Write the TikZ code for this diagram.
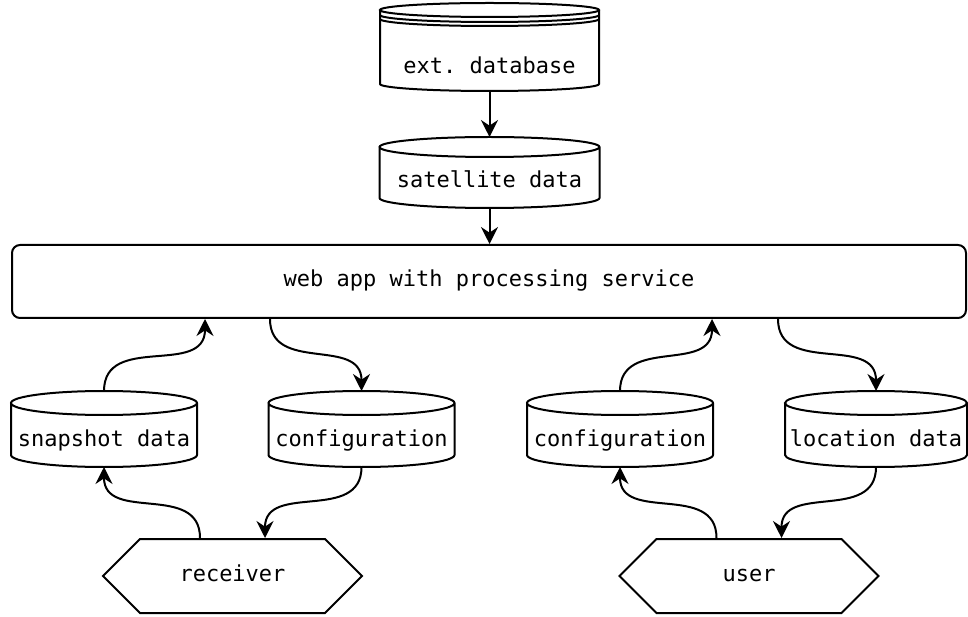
\documentclass[tikz,border=0pt]{standalone}
\usepackage{fontspec}
\setmonofont{DejaVu Sans Mono}
\usetikzlibrary{arrows.meta,positioning,calc,shapes.symbols}

\begin{document}
\begin{tikzpicture}[x=1pt, y=1pt, line width=1pt,
  txt/.style={font=\ttfamily\fontsize{11pt}{13pt}\selectfont, text height=8pt, text depth=2.5pt},
  store/.style={txt, minimum width=92pt, minimum height=25pt, inner xsep=1pt, inner ysep=0pt},
  app/.style={txt, draw, rounded corners=4pt, minimum width=477pt, minimum height=36.5pt},
  agent/.style={txt, draw, signal, signal to=east and west, signal pointer angle=90,
                minimum width=129.5pt, minimum height=37pt},
  flow/.style={-{Stealth[length=8.5pt, width=8.5pt, inset=2.8pt]}, looseness=1.2}]
  \useasboundingbox (0,0) rectangle (484,308);
  % data stores, only the body of each drum is the node
  \node[store, minimum width=108.5pt, minimum height=22pt] (ext) at (244.75,274) {ext. database};
  \node[store, minimum width=109pt, minimum height=24.5pt] (sat) at (244.75,216.75) {satellite data};
  \node[app] (web) at (244.5,167.25) {web app with processing service};
  \node[store] (snap) at (52,87.5) {snapshot data};
  \node[store] (cfgA) at (180.75,87.5) {configuration};
  \node[store] (cfgB) at (310,87.5) {configuration};
  \node[store, minimum width=90pt] (loc) at (438,87.5) {location data};
  \node[agent] (recv) at (116.25,20) {receiver};
  \node[agent] (usr) at (374.5,20) {user};

  % drum outlines
  \foreach \s/\ry/\lift in {ext/3.5/17.5, sat/5/5, snap/6/6, cfgA/6/6, cfgB/6/6, loc/6/6}
    \draw let \p1=(\s.north west), \p2=(\s.south east), \n1={(\x2-\x1)/2} in
      (\x1,\y1+\lift pt) -- (\x1,\y2+\ry pt)
      arc[start angle=180, end angle=360, x radius=\n1, y radius=\ry pt]
      -- (\x2,\y1+\lift pt)
      (\x1+\n1,\y1+\lift pt) ellipse[x radius=\n1, y radius=\ry pt];
  \draw let \p1=(ext.north west), \p2=(ext.north east), \n1={(\x2-\x1)/2} in
    (\x1,\y1+15pt) arc[start angle=180, end angle=360, x radius=\n1, y radius=3.5pt]
    (\x1,\y1+13pt) arc[start angle=180, end angle=360, x radius=\n1, y radius=3.5pt];

  \draw[flow] (ext.south) -- ([yshift=10pt]sat.north);
  \draw[flow] (sat.south) -- (sat.south |- web.north);

  \draw[flow] ([yshift=12pt]snap.north) to[out=90, in=-90] ([xshift=-142pt]web.south);
  \draw[flow] ([xshift=-109.5pt]web.south) to[out=-90, in=90] ([yshift=12pt]cfgA.north);
  \draw[flow] ([yshift=12pt]cfgB.north) to[out=90, in=-90] ([xshift=111.5pt]web.south);
  \draw[flow] ([xshift=144.5pt]web.south) to[out=-90, in=90] ([yshift=12pt]loc.north);

  \draw[flow] ([xshift=-16.25pt]recv.north) to[out=90, in=-90] (snap.south);
  \draw[flow] (cfgA.south) to[out=-90, in=90] ([xshift=16.25pt]recv.north);
  \draw[flow] ([xshift=-16.25pt]usr.north) to[out=90, in=-90] (cfgB.south);
  \draw[flow] (loc.south) to[out=-90, in=90] ([xshift=16.25pt]usr.north);
\end{tikzpicture}
\end{document}
